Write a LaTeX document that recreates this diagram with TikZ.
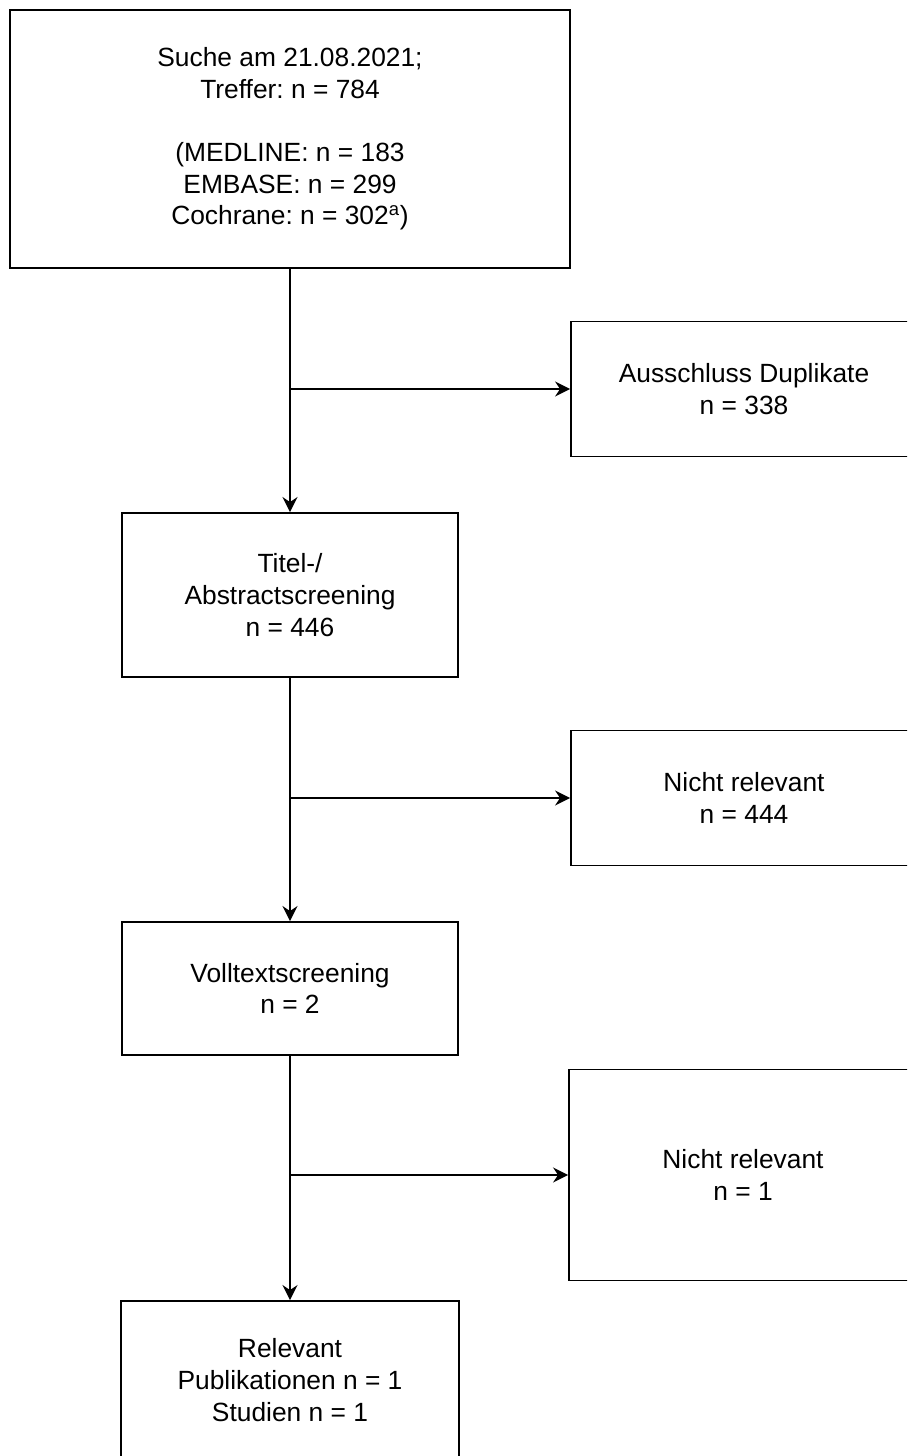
\documentclass[tikz,border=0pt]{standalone}
\usepackage{fontspec}
\setmainfont{Liberation Sans}
\usetikzlibrary{arrows.meta}
\frenchspacing
\tikzset{
  flowbox/.style={rectangle, draw=black, fill=white, align=center,
    line width=1.1pt, inner sep=2pt, font=\fontsize{15}{18}\selectfont},
  flowarrow/.style={-{Stealth[length=0.3cm, width=0.3cm, inset=0.1cm]}, line width=1.2pt, color=black}
}

\begin{document}
\begin{tikzpicture}[x=0.02cm, y=-0.02cm]
  \useasboundingbox (0,0) rectangle (907,1456);
  \clip (0,0) rectangle (907,1456);

  % Nodes
  \node[flowbox, minimum width=11.19cm, minimum height=5.16cm] (search) at (290,139)
    {Suche am 21.08.2021;\\Treffer: n = 784\\[18pt](MEDLINE: n = 183\\EMBASE: n = 299\\Cochrane: n = 302\textsuperscript{a})};
  \node[flowbox, minimum width=6.92cm, minimum height=2.70cm] (dup) at (744,389)
    {Ausschluss Duplikate\\n = 338};
  \node[flowbox, minimum width=6.72cm, minimum height=3.28cm] (title) at (290,595)
    {Titel-/\\Abstractscreening\\n = 446};
  \node[flowbox, minimum width=6.92cm, minimum height=2.70cm] (irrel1) at (744,798)
    {Nicht relevant\\n = 444};
  \node[flowbox, minimum width=6.72cm, minimum height=2.66cm] (full) at (290,988.5)
    {Volltextscreening\\n = 2};
  \node[flowbox, minimum width=6.96cm, minimum height=4.22cm] (irrel2) at (743,1175)
    {Nicht relevant\\n = 1};
  \node[flowbox, minimum width=6.76cm, minimum height=3.16cm] (rel) at (290,1380)
    {Relevant\\Publikationen n = 1\\Studien n = 1};

  % Connections
  \coordinate (split1) at (search.south |- dup.west);
  \coordinate (split2) at (title.south |- irrel1.west);
  \coordinate (split3) at (full.south |- irrel2.west);

  \draw[flowarrow] (search) -- (title);
  \draw[flowarrow] (split1) -- (dup);
  \draw[flowarrow] (title) -- (full);
  \draw[flowarrow] (split2) -- (irrel1);
  \draw[flowarrow] (full) -- (rel);
  \draw[flowarrow] (split3) -- (irrel2);

\end{tikzpicture}
\end{document}
